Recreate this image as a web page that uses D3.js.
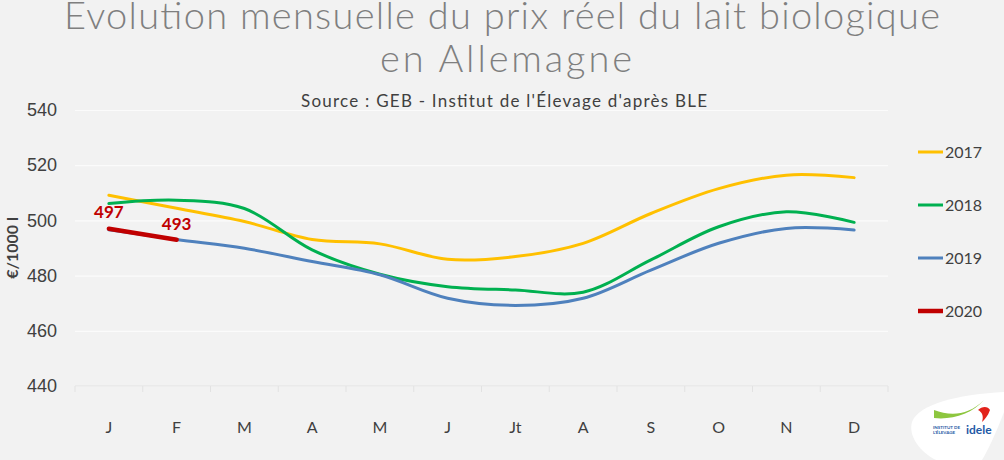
<!DOCTYPE html>
<html>
<head>
<meta charset="utf-8">
<script src="https://cdn.jsdelivr.net/npm/d3@7"></script>
<style>
  body { margin: 0; background: #f2f2f2; overflow: hidden; }
  svg { display: block; font-family: Lato, "Open Sans", sans-serif; }
</style>
</head>
<body>
<svg width="1004" height="460"></svg>
<script>
const months = ["J", "F", "M", "A", "M", "J", "Jt", "A", "S", "O", "N", "D"]
const yTicks = [440, 460, 480, 500, 520, 540]
const years = ["2017", "2018", "2019", "2020"]
const colors = ["#ffc000", "#00b050", "#4f81bd", "#c00000"]
const v2017 = [509.1, 504.4, 499.6, 493.1, 491.5, 485.9, 486.9, 491.7, 502.5, 511.5, 516.4, 515.5]
const v2018 = [506.1, 507.3, 504.3, 489.3, 480.5, 476.0, 474.8, 474.0, 485.7, 497.7, 503.1, 499.3]
const v2019 = [496.6, 493.1, 489.9, 485.1, 480.3, 471.8, 469.2, 471.8, 482.0, 491.7, 497.1, 496.5]
const v2020 = [497, 493]

const svg = d3.select("svg")
const width = +svg.attr("width")
const height = +svg.attr("height")
const margin = { top: 110, right: 116, bottom: 74, left: 75 }
const innerWidth = width - margin.left - margin.right
const innerHeight = height - margin.top - margin.bottom

svg.append("rect").attr("width", width).attr("height", height).attr("fill", "#f2f2f2")

const series = [v2017, v2018, v2019, v2020]

const xScale = d3.scaleBand().domain(d3.range(12)).range([0, innerWidth])
const xPos = (i) => xScale(i) + xScale.bandwidth() / 2
const yScale = d3.scaleLinear().domain([440, 540]).range([innerHeight, 0])

const g = svg.append("g").attr("transform", `translate(${margin.left},${margin.top})`)

// grid
const yAxis = d3.axisLeft(yScale).tickValues(yTicks).tickSize(-innerWidth).tickPadding(18)
const yAxisG = g.append("g").call(yAxis)
yAxisG.select(".domain").remove()
yAxisG.selectAll(".tick line").attr("stroke", "#fbfbfb").attr("stroke-width", 1.2)
yAxisG.selectAll(".tick text").attr("fill", "#404040").style("font-size", "18px")

// x axis with ticks between categories
const xAxisG = g.append("g").attr("transform", `translate(0,${innerHeight})`)
xAxisG.append("line").attr("x1", 0).attr("x2", innerWidth).attr("stroke", "#e2e2e2")
xAxisG.selectAll(".tk").data(d3.range(13)).join("line")
  .attr("x1", (d) => d * xScale.step()).attr("x2", (d) => d * xScale.step())
  .attr("y1", 0).attr("y2", 6).attr("stroke", "#e2e2e2")
xAxisG.selectAll(".lbl").data(months).join("text")
  .attr("x", (d, i) => xPos(i)).attr("y", 47)
  .attr("text-anchor", "middle").attr("fill", "#404040")
  .style("font-size", "16px").text((d) => d)

// lines
const line = d3.line()
  .x((d, i) => xPos(i))
  .y((d) => yScale(d))
  .curve(d3.curveCatmullRom.alpha(0.5))

series.forEach((s, k) => {
  g.append("path").datum(s)
    .attr("fill", "none")
    .attr("stroke", colors[k])
    .attr("stroke-width", k === 3 ? 4.5 : 3)
    .attr("stroke-linecap", "round")
    .attr("d", line)
})

// 2020 labels
g.selectAll(".vlab").data(v2020).join("text")
  .attr("x", (d, i) => xPos(i))
  .attr("y", (d, i) => yScale(d) - (i === 0 ? 11 : 10))
  .attr("text-anchor", "middle")
  .attr("fill", "#c00000")
  .style("font-size", "17px").style("font-weight", "bold")
  .text((d) => d)

// y label
svg.append("text")
  .attr("transform", "translate(18,248) rotate(-90)")
  .attr("text-anchor", "middle")
  .attr("fill", "#404040")
  .style("font-size", "16px").style("font-weight", "bold")
  .text("€/1000 l")

// legend
const legend = svg.append("g").attr("transform", "translate(918,152)")
years.forEach((y, k) => {
  const lg = legend.append("g").attr("transform", `translate(0,${k * 53})`)
  lg.append("line").attr("x1", 0).attr("x2", 25)
    .attr("stroke", colors[k]).attr("stroke-width", k === 3 ? 4.5 : 3)
  lg.append("text").attr("x", 27).attr("y", 6)
    .attr("fill", "#404040").style("font-size", "16px").text(y)
})

// titles
svg.append("text").attr("x", 502).attr("y", 29).attr("text-anchor", "middle")
  .attr("fill", "#7f7f7f").style("font-size", "38px").style("font-weight", "300")
  .attr("textLength", 876).attr("lengthAdjust", "spacing")
  .text("Evolution mensuelle du prix réel du lait biologique")
svg.append("text").attr("x", 506).attr("y", 72).attr("text-anchor", "middle")
  .attr("fill", "#7f7f7f").style("font-size", "38px").style("font-weight", "300")
  .attr("textLength", 252).attr("lengthAdjust", "spacing")
  .text("en Allemagne")
svg.append("text").attr("x", 504).attr("y", 107).attr("text-anchor", "middle")
  .attr("fill", "#404040").style("font-size", "17px")
  .attr("textLength", 406).attr("lengthAdjust", "spacing")
  .text("Source : GEB - Institut de l'Élevage d'après BLE")

// logo
const logo = svg.append("g").attr("transform", "translate(900,388)")
logo.append("path")
  .attr("d", "M12,34 C18,16 60,6 104,4 L104,24 C96,45 88,62 82,72 L36,72 C20,64 8,48 12,34 Z")
  .attr("fill", "#ffffff")
logo.append("path").attr("d", "M34,22 C50,28 68,28 84,12 C72,26 52,32 34,30 Z").attr("fill", "#8dc63f")
logo.append("path").attr("d", "M78,22 C82,18 88,18 90,22 C88,28 84,32 82,34 C84,28 82,24 78,22 Z").attr("fill", "#e2231a")
logo.append("text").attr("x", 66).attr("y", 46).attr("fill", "#1f5aa6")
  .style("font-size", "12px").style("font-weight", "bold").text("idele")
logo.append("text").attr("x", 33).attr("y", 41).attr("fill", "#1f5aa6")
  .style("font-size", "4.5px").style("font-weight", "bold").text("INSTITUT DE")
logo.append("text").attr("x", 33).attr("y", 46).attr("fill", "#1f5aa6")
  .style("font-size", "4.5px").style("font-weight", "bold").text("L'ÉLEVAGE")
</script>
</body>
</html>
